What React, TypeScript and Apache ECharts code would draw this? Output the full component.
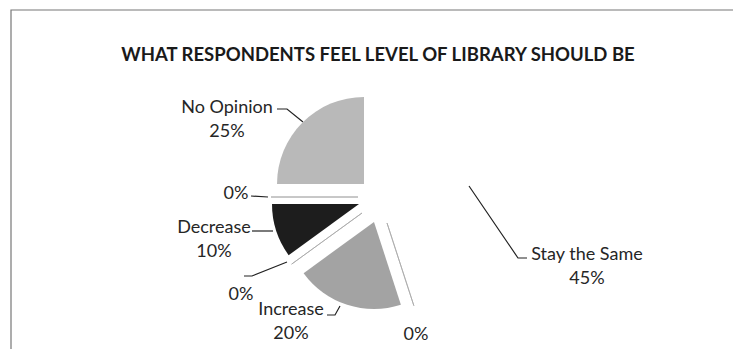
import React, { useEffect, useRef } from "react";
import * as echarts from "echarts";

// ---- data ----
const chartTitle = "WHAT RESPONDENTS FEEL LEVEL OF LIBRARY SHOULD BE";
const categories = ["Stay the Same", "", "Increase", "", "Decrease", "", "No Opinion"];
const values = [45, 0, 20, 0, 10, 0, 25];

// ---- styles / layout ----
const fills = ["transparent", "transparent", "#a3a3a3", "transparent", "#1d1d1d", "transparent", "#b9b9b9"];
const borders = ["transparent", "#a8a8a8", "transparent", "#a8a8a8", "transparent", "#a8a8a8", "transparent"];
// each slice is pulled out of the pie by its own amount
const sliceCenters = [
  [382, 196],
  [387, 223],
  [374, 222],
  [362, 213],
  [359, 204],
  [358, 197],
  [364, 184],
];
const pieRadius = 87;
// label block centres and leader lines
const labelPos = [
  [587, 265],
  [416, 333],
  [291, 320],
  [241, 293],
  [214, 238],
  [236, 192],
  [227, 118],
];
const leaderLines: (number[][] | null)[] = [
  [[527, 258], [518, 258], [469, 186]],
  null,
  [[327, 315], [335, 315], [340, 306]],
  [[244, 276], [252, 276], [287, 262]],
  [[252, 231], [273, 231]],
  [[251, 196], [268, 197]],
  [[277, 109], [287, 109], [303, 122]],
];

const FONT = "Lato, 'Open Sans', sans-serif";

export default function App() {
  const ref = useRef<HTMLDivElement>(null);
  useEffect(() => {
    if (!ref.current) return;
    const chart = echarts.init(ref.current, undefined, { renderer: "svg" });
    const total = values.reduce((a, b) => a + b, 0);
    const series = categories.map((_, target) => ({
      type: "pie",
      silent: true,
      startAngle: 90,
      clockwise: true,
      avoidLabelOverlap: false,
      center: sliceCenters[target],
      radius: pieRadius,
      labelLayout: () => ({
        x: labelPos[target][0],
        y: labelPos[target][1],
        align: "center",
        verticalAlign: "middle",
        ...(leaderLines[target] ? { labelLinePoints: leaderLines[target] } : {}),
      }),
      data: categories.map((name, i) => {
        const on = i === target;
        return {
          name,
          value: values[i],
          itemStyle: on
            ? { color: fills[i], borderColor: borders[i], borderWidth: borders[i] === "transparent" ? 0 : 0.8 }
            : { color: "transparent", borderWidth: 0 },
          label: on
            ? {
                show: true,
                position: "outside",
                formatter: () => {
                  const pct = Math.round((values[i] / total) * 100) + "%";
                  return name ? name + "\n" + pct : pct;
                },
                fontFamily: FONT,
                fontSize: 18,
                lineHeight: 24,
                color: "#262626",
                align: "center",
              }
            : { show: false },
          labelLine: on && leaderLines[i]
            ? { show: true, length: 10, length2: 10, lineStyle: { color: "#222", width: 1.2 } }
            : { show: false },
        };
      }),
    }));
    chart.setOption({
      animation: false,
      backgroundColor: "#ffffff",
      graphic: [
        {
          type: "rect",
          shape: { x: 11, y: 10, width: 900, height: 500 },
          style: { fill: "none", stroke: "#777", lineWidth: 1.2 },
          silent: true,
        },
        {
          type: "text",
          x: 378,
          y: 54,
          style: {
            text: chartTitle,
            fill: "#1a1a1a",
            font: "bold 18.5px " + FONT,
            textAlign: "center",
            textVerticalAlign: "middle",
          },
        },
      ],
      series,
    } as any);
    return () => chart.dispose();
  }, []);
  return (
    <div
      ref={ref}
      style={{ position: "fixed", left: 0, top: 0, width: 733, height: 349 }}
    />
  );
}
